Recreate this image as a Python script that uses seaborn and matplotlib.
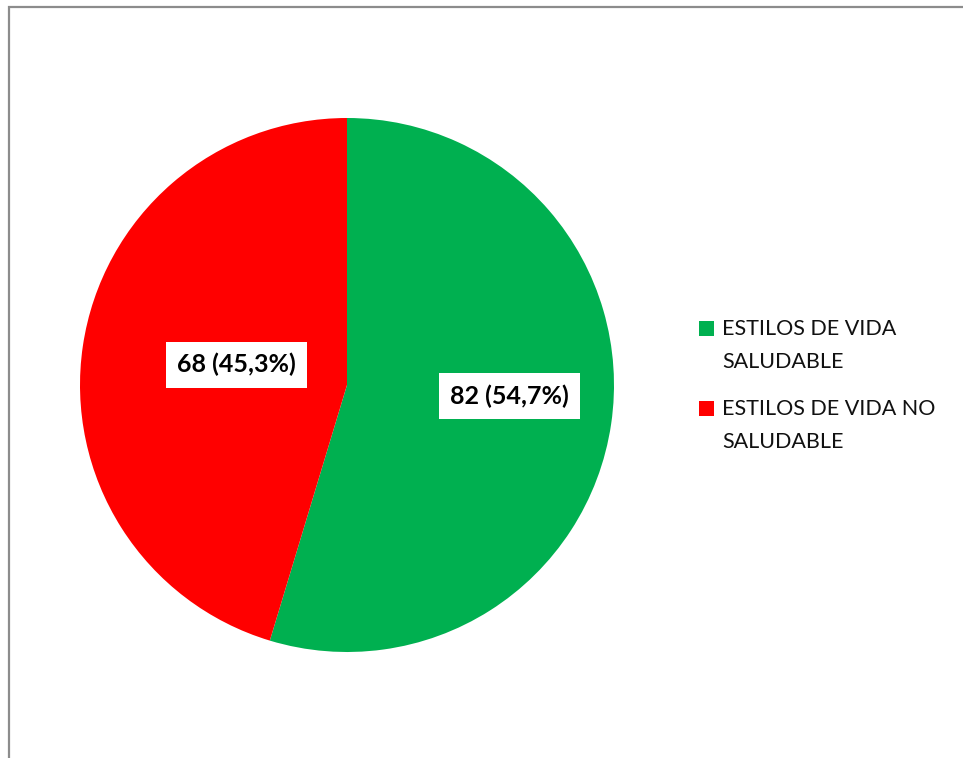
import matplotlib
matplotlib.use("Agg")
import matplotlib.pyplot as plt
import matplotlib.patches as mpatches
import numpy as np
import seaborn as sns

categories = ["ESTILOS DE VIDA SALUDABLE", "ESTILOS DE VIDA NO SALUDABLE"]
legend_labels = ["ESTILOS DE VIDA\nSALUDABLE", "ESTILOS DE VIDA NO\nSALUDABLE"]
counts = [82, 68]
percents = ["54,7%", "45,3%"]
colors = ["#00B050", "#FF0000"]

sns.set_theme(style="white")
plt.rcParams['font.family'] = ['Lato', 'DejaVu Sans']

W, H = 963, 758
fig = plt.figure(figsize=(W / 100, H / 100), dpi=100)
fig.patch.set_facecolor("white")

cx, cy, r = 347, 385, 267
ax = fig.add_axes([(cx - r) / W, (H - cy - r) / H, 2 * r / W, 2 * r / H])

wedges, _ = ax.pie(counts, colors=colors, startangle=90, counterclock=False,
                   radius=1, wedgeprops=dict(linewidth=0))
ax.set_xlim(-1, 1)
ax.set_ylim(-1, 1)
ax.set_aspect("equal")
ax.axis("off")

dists = [0.61, 0.42]
angle_shift = [4.5, -2.0]
for w, n, p, d, s in zip(wedges, counts, percents, dists, angle_shift):
    mid = np.deg2rad((w.theta1 + w.theta2) / 2 + s)
    ax.text(d * np.cos(mid), d * np.sin(mid), f"{n} ({p})",
            ha="center", va="center", fontsize=18, fontweight="bold",
            color="#000000",
            bbox=dict(boxstyle="square,pad=0.45", facecolor="white", edgecolor="none"))

# legend (manual layout so the swatch sits beside the first line)
sq = 15
x_sq, x_txt = 699, 722
y0, step = 321, 80
for i, (lab, c) in enumerate(zip(legend_labels, colors)):
    top = y0 + i * step
    fig.add_artist(mpatches.Rectangle((x_sq / W, 1 - (top + sq) / H), sq / W, sq / H,
                                      transform=fig.transFigure, facecolor=c,
                                      edgecolor="none"))
    fig.text(x_txt / W, 1 - (top - 2) / H, lab, fontsize=15.5, color="#111111",
             ha="left", va="top", linespacing=1.8)

frame = mpatches.Rectangle((8.5 / W, -0.1), 1.2, 1 - 7.5 / H + 0.1,
                           transform=fig.transFigure, fill=False,
                           edgecolor="#8c8c8c", linewidth=1.6, clip_on=False)
fig.add_artist(frame)

fig.savefig("out.png", dpi=100)
